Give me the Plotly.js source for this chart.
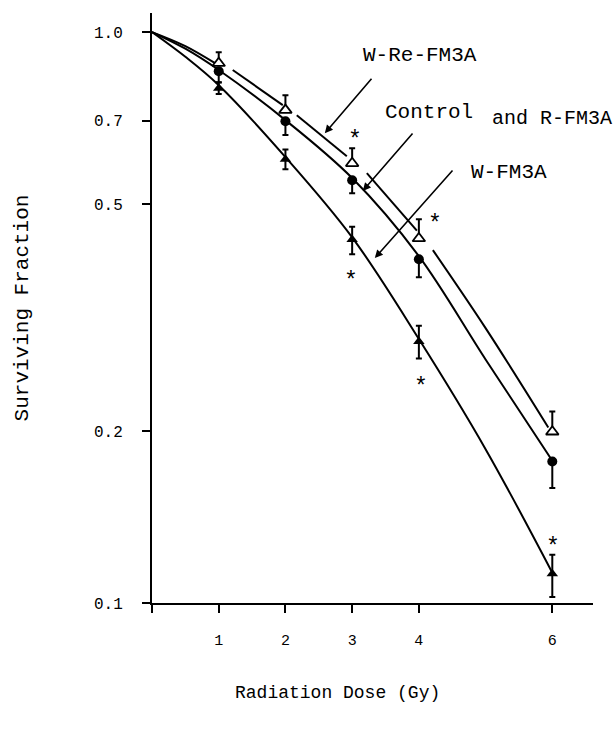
<!DOCTYPE html>
<html>
<head>
<meta charset="utf-8">
<script src="https://cdn.plot.ly/plotly-3.0.1.min.js"></script>
<style>html,body{margin:0;padding:0;background:#fff;}#chart{width:615px;height:731px;}</style>
</head>
<body>
<div id="chart"></div>
<script>
// Measured points (dose in Gy)
const doses = [1, 2, 3, 4, 6];
const wReFM3A = [0.882, 0.730, 0.589, 0.435, 0.1995];
const wReErrUp = [0.040, 0.045, 0.037, 0.035, 0.017];
const control = [0.854, 0.698, 0.550, 0.400, 0.177];
const controlErrDown = [0.037, 0.038, 0.028, 0.028, 0.018];
const wFM3A = [0.797, 0.599, 0.433, 0.287, 0.1125];
const wFM3AErrUp = [0.019, 0.024, 0.023, 0.019, 0.009];
const wFM3AErrDown = [0.018, 0.024, 0.025, 0.019, 0.010];

// Fitted curves
const curveDose = [0, 0.5, 1, 2, 3, 4, 5, 6];
const controlCurve = [1, 0.935, 0.858, 0.701, 0.555, 0.405, 0.267, 0.1775];
const wFM3ACurve = [1, 0.905, 0.807, 0.604, 0.437, 0.290, 0.186, 0.113];
// W-Re-FM3A curve is drawn broken around its points
const wReCurveDose = [0, 0.5, 0.945, null, 1.21, 1.96, null, 2.17, 2.92, null, 3.22, 3.97, null, 4.21, 5.0, 5.94];
const wReCurve = [1, 0.945, 0.882, null, 0.858, 0.745, null, 0.715, 0.606, null, 0.566, 0.449, null, 0.415, 0.303, 0.203];

const xTickVals = [0, 1, 2, 3, 4, 6];
const xTickText = ['', '1', '2', '3', '4', '6'];
const yTickVals = [0.1, 0.2, 0.5, 0.7, 1.0];
const yTickText = ['0.1', '0.2', '0.5', '0.7', '1.0'];

const FONT = 'Liberation Mono, Courier New, monospace';
const lineStyle = {color: '#000', width: 2};

const traces = [
  {x: curveDose, y: controlCurve, mode: 'lines', line: Object.assign({shape: 'spline'}, lineStyle), hoverinfo: 'skip', showlegend: false},
  {x: curveDose, y: wFM3ACurve, mode: 'lines', line: Object.assign({shape: 'spline'}, lineStyle), hoverinfo: 'skip', showlegend: false},
  {x: wReCurveDose, y: wReCurve, mode: 'lines', connectgaps: false, line: Object.assign({shape: 'spline'}, lineStyle), hoverinfo: 'skip', showlegend: false},
  {x: doses, y: wReFM3A, mode: 'markers', name: 'W-Re-FM3A',
   marker: {symbol: 'triangle-up', size: 11, color: '#fff', line: {width: 1.8, color: '#000'}},
   error_y: {type: 'data', symmetric: false, array: wReErrUp, arrayminus: [0,0,0,0,0], color: '#000', thickness: 2, width: 3},
   showlegend: false},
  {x: doses, y: control, mode: 'markers', name: 'Control and R-FM3A',
   marker: {symbol: 'circle', size: 10, color: '#000'},
   error_y: {type: 'data', symmetric: false, array: [0,0,0,0,0], arrayminus: controlErrDown, color: '#000', thickness: 2, width: 3},
   showlegend: false},
  {x: doses, y: wFM3A, mode: 'markers', name: 'W-FM3A',
   marker: {symbol: 'triangle-up', size: 10, color: '#000'},
   error_y: {type: 'data', symmetric: false, array: wFM3AErrUp, arrayminus: wFM3AErrDown, color: '#000', thickness: 2, width: 3},
   showlegend: false}
];

function label(text, x, y, size) {
  return {x: x, y: Math.log10(y), xref: 'x', yref: 'y', text: text, showarrow: false,
          font: {family: FONT, size: size, color: '#000'}, xanchor: 'center', yanchor: 'middle'};
}
function arrow(x, y, ax, ay) {
  return {x: x, y: Math.log10(y), xref: 'x', yref: 'y', text: '', showarrow: true,
          arrowhead: 2, arrowsize: 1, arrowwidth: 1.6, arrowcolor: '#000', ax: ax, ay: ay, standoff: 0};
}
function star(x, y) {
  return {x: x, y: Math.log10(y), xref: 'x', yref: 'y', text: '*', showarrow: false,
          font: {family: FONT, size: 23, color: '#000'}, xanchor: 'center', yanchor: 'middle'};
}

const annotations = [
  label('W-Re-FM3A', 4.02, 0.911, 21),
  label('Control', 4.15, 0.724, 21),
  label('and R-FM3A', 6.0, 0.707, 20),
  label('W-FM3A', 5.35, 0.568, 21),
  arrow(2.59, 0.665, 48, -56),
  arrow(3.16, 0.527, 51, -59),
  arrow(3.34, 0.402, 79, -89),
  star(3.04, 0.645),
  star(2.99, 0.365),
  star(4.24, 0.460),
  star(4.03, 0.238),
  star(6.01, 0.125),
  {x: 0.42, xref: 'paper', y: -0.152, yref: 'paper', text: 'Radiation Dose (Gy)', showarrow: false,
   font: {family: FONT, size: 18, color: '#000'}, xanchor: 'center', yanchor: 'middle'}
];

const layout = {
  width: 615, height: 731,
  margin: {l: 152, r: 22, t: 13, b: 128},
  paper_bgcolor: '#fff', plot_bgcolor: '#fff',
  font: {family: FONT, color: '#000'},
  xaxis: {range: [0, 6.61], tickvals: xTickVals, ticktext: xTickText, ticks: 'outside', ticklen: 8, tickwidth: 2,
          tickcolor: '#000', showline: true, linecolor: '#000', linewidth: 2, showgrid: false, zeroline: false,
          tickfont: {family: FONT, size: 15, color: '#000'}, ticklabelstandoff: 14},
  yaxis: {type: 'log', range: [-1, 0.0334], tickvals: yTickVals, ticktext: yTickText, ticks: 'outside', ticklen: 8,
          tickwidth: 2, tickcolor: '#000', showline: true, linecolor: '#000', linewidth: 2, showgrid: false, zeroline: false,
          tickfont: {family: FONT, size: 16, color: '#000'}, ticklabelstandoff: 16,
          title: {text: 'Surviving Fraction', font: {family: FONT, size: 21, color: '#000'}, standoff: 60}},
  annotations: annotations,
  showlegend: false
};

Plotly.newPlot('chart', traces, layout, {displayModeBar: false, staticPlot: true});
</script>
</body>
</html>
